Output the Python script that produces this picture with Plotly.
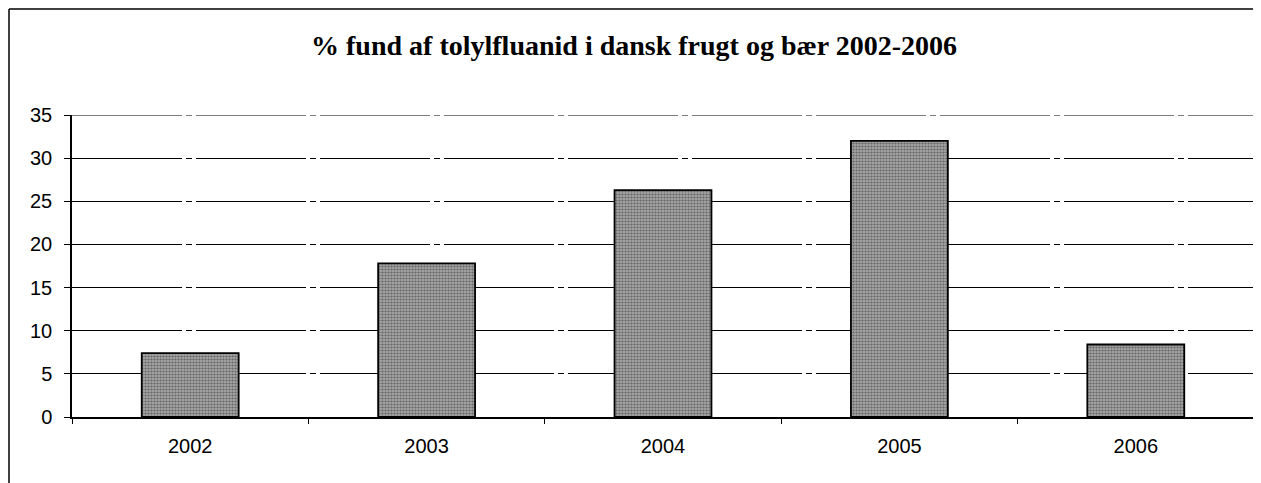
import plotly.graph_objects as go

years = ["2002", "2003", "2004", "2005", "2006"]
values = [7.4, 17.8, 26.3, 32.0, 8.4]
y_ticks = [0, 5, 10, 15, 20, 25, 30, 35]
title_text = "% fund af tolylfluanid i dansk frugt og bær 2002-2006"

OFF = 8  # page body margin
W, H = 1261 - OFF, 483 - OFF
# desired positions in screenshot coordinates
L_s, R_s, T_s, B_s = 72, 1254, 115, 417
L, T = L_s - OFF, T_s - OFF
R = W - (R_s - OFF)
B = H - (B_s - OFF)
pw, ph = W - L - R, H - T - B

def px(xs):
    return (xs - OFF - L) / pw

def py(ys):
    return (H - B - (ys - OFF)) / ph

fig = go.Figure()
fig.add_trace(go.Bar(
    x=years, y=values,
    marker=dict(
        color="#868686",
        line=dict(color="black", width=1.8),
        pattern=dict(shape=".", fgcolor="#262626", bgcolor="#a4a4a4", size=3, solidity=0.42),
    ),
    width=0.41,
))

fig.update_layout(
    width=W, height=H,
    margin=dict(l=L, r=R, t=T, b=B),
    paper_bgcolor="white", plot_bgcolor="white",
    showlegend=False,
    title=dict(text="<b>" + title_text + "</b>", x=(634 - OFF) / W, xanchor="center",
               y=1 - (45 - OFF) / H, yanchor="middle",
               font=dict(family="Liberation Serif", size=28, color="black")),
    xaxis=dict(type="category", showgrid=False, showline=True, linecolor="black", linewidth=1.5,
               ticks="outside", tickson="boundaries", ticklen=5, tickcolor="black",
               ticklabelstandoff=10,
               tickfont=dict(family="Liberation Sans", size=20, color="black"), fixedrange=True),
    yaxis=dict(range=[0, 35], tickvals=y_ticks, showgrid=True, gridcolor="black", gridwidth=1.2,
               griddash="110px,4px,6px,4px",
               showline=True, linecolor="black", linewidth=1.5, ticks="outside", ticklen=6,
               tickcolor="black", zeroline=False, ticklabelstandoff=8,
               tickfont=dict(family="Liberation Sans", size=20, color="black")),
    shapes=[
        dict(type="line", xref="paper", yref="paper", x0=px(9), x1=px(9), y0=py(9), y1=py(483),
             line=dict(color="black", width=1.5)),
        dict(type="line", xref="paper", yref="paper", x0=px(9), x1=px(1261), y0=py(9), y1=py(9),
             line=dict(color="black", width=1.5)),
        dict(type="line", xref="paper", yref="paper", x0=1, x1=1, y0=py(425), y1=1,
             line=dict(color="black", width=1.2)),
        dict(type="line", xref="paper", yref="y", x0=0, x1=1, y0=35, y1=35,
             line=dict(color="black", width=1.2, dash="110px,4px,6px,4px")),
    ],
)

fig.write_html("out.html")
